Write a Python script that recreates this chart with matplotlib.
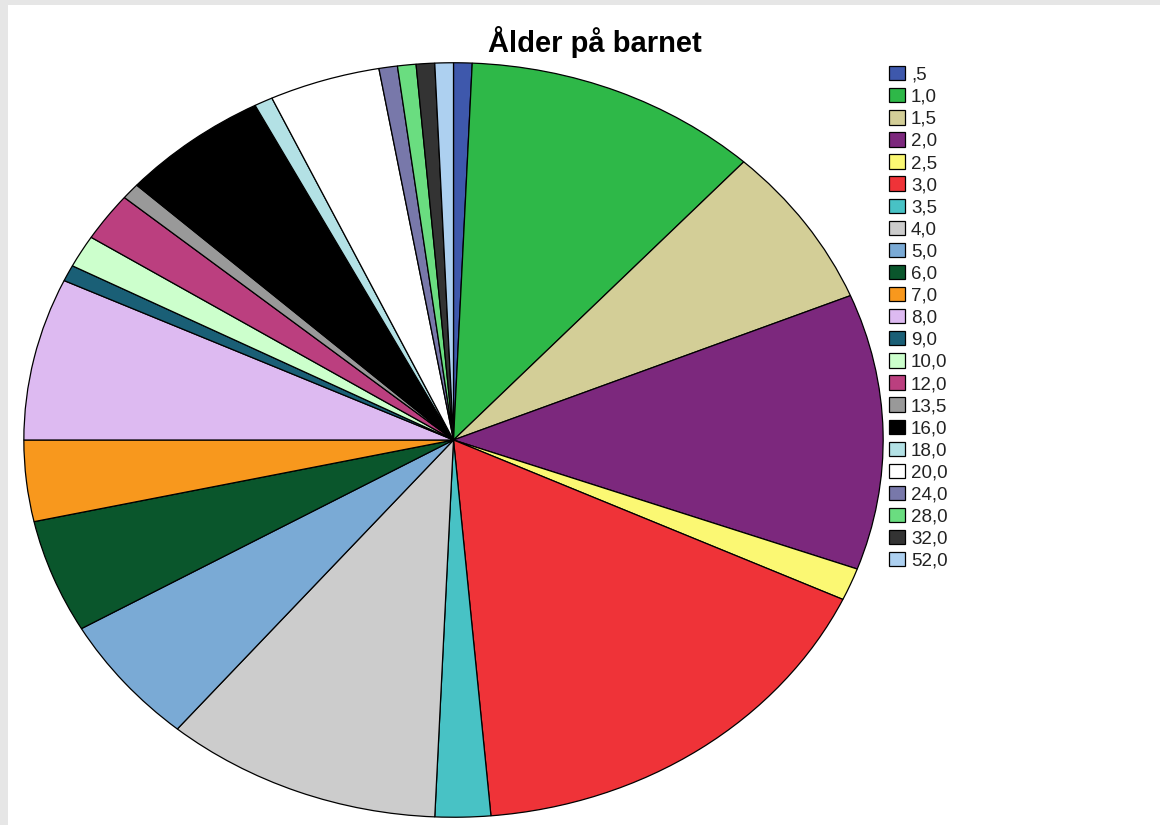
import matplotlib.pyplot as plt
from matplotlib.patches import Rectangle

plt.rcParams['font.family'] = ['Liberation Sans', 'DejaVu Sans']

# ålder (år) och antal barn
labels = [',5', '1,0', '1,5', '2,0', '2,5', '3,0', '3,5', '4,0', '5,0', '6,0', '7,0', '8,0',
          '9,0', '10,0', '12,0', '13,5', '16,0', '18,0', '20,0', '24,0', '28,0', '32,0', '52,0']
counts = [1, 16, 10, 17, 2, 24, 3, 15, 8, 7, 5, 10,
          1, 2, 3, 1, 8, 1, 6, 1, 1, 1, 1]
colors = ['#3e58ac', '#2eb848', '#d3ce97', '#7c287d', '#fbf873', '#ef3338', '#48c2c5',
          '#cccccc', '#7aaad5', '#0a562c', '#f8981d', '#ddbaf1', '#1a5f76', '#ccffcc',
          '#bb3f7f', '#999999', '#000000', '#b3e1e5', '#ffffff', '#7878aa', '#6add80',
          '#333333', '#add0f0']

W, H = 1160, 825
fig = plt.figure(figsize=(W / 100, H / 100), dpi=100, facecolor='#e6e6e6')

# vit bakgrund innanför den grå kanten
fig.patches.append(Rectangle((8 / W, 0), 1 - 8 / W, 1 - 5 / H, transform=fig.transFigure,
                             facecolor='white', edgecolor='none', zorder=-5))

# axlar så att pajen blir en ellips (23..884 px, 62..818 px)
ax = fig.add_axes([23 / W, 7 / H, 861 / W, 756 / H])
ax.set_zorder(2)
ax.patch.set_visible(False)
wedges, _ = ax.pie(counts, colors=colors, startangle=90, counterclock=False,
                   wedgeprops=dict(edgecolor='black', linewidth=0.9))
ax.set_aspect('auto')
ax.set_xlim(-1.002, 1.002)
ax.set_ylim(-1.002, 1.002)
ax.axis('off')

fig.text(595 / W, 1 - 42 / H, 'Ålder på barnet', ha='center', va='center',
         fontsize=21, fontweight='bold', color='black')

leg = fig.legend(wedges, labels, loc='upper left', bbox_to_anchor=(889 / W, 1 - 66 / H),
                 frameon=False, fontsize=13.5, handlelength=0.88, handleheight=0.8,
                 handletextpad=0.3, labelspacing=0.235, borderaxespad=0, borderpad=0)
for t in leg.get_texts():
    t.set_color('#222222')

fig.savefig('out.png', dpi=100, facecolor=fig.get_facecolor())
